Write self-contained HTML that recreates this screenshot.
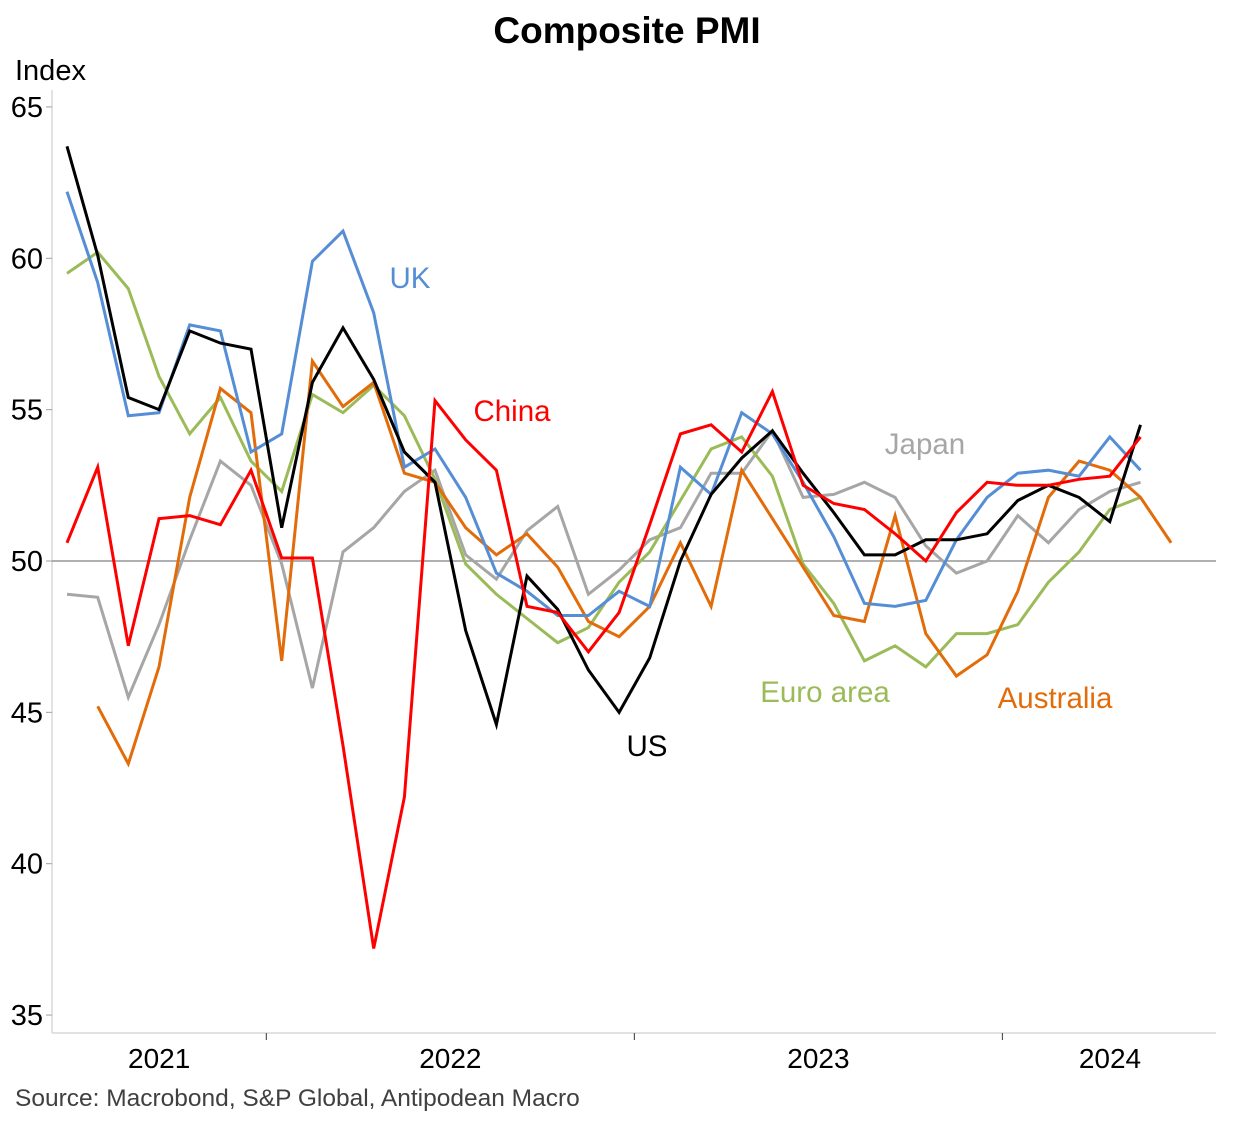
<!DOCTYPE html>
<html><head><meta charset="utf-8"><style>
html,body{margin:0;padding:0;background:#fff;}
svg{display:block;font-family:"Liberation Sans",Arial,sans-serif;}
</style></head><body>
<svg id="chart" width="1253" height="1122" viewBox="0 0 1253 1122" xmlns="http://www.w3.org/2000/svg">
<text x="627" y="43" text-anchor="middle" font-size="37" font-weight="bold">Composite PMI</text>
<text x="15" y="80" font-size="29">Index</text>
<g id="axes"></g>
<g id="series"></g>
<text x="410" y="288" text-anchor="middle" font-size="29.5" fill="#558ed5">UK</text>
<text x="512" y="421" text-anchor="middle" font-size="29.5" fill="#ff0000">China</text>
<text x="925" y="454" text-anchor="middle" font-size="29.5" fill="#a6a6a6">Japan</text>
<text x="825" y="702" text-anchor="middle" font-size="29.5" fill="#9bbb59">Euro area</text>
<text x="1055" y="708" text-anchor="middle" font-size="29.5" fill="#e36c0a">Australia</text>
<text x="647" y="756" text-anchor="middle" font-size="29.5" fill="#000">US</text>
<text x="15" y="1106" font-size="24.5" fill="#404040">Source: Macrobond, S&amp;P Global, Antipodean Macro</text>
</svg>
<script>
const yTicks=[35,40,45,50,55,60,65];
const yearLabels=["2021","2022","2023","2024"];
const us=[63.7,60.1,55.4,55.0,57.6,57.2,57.0,51.1,55.9,57.7,56.0,53.6,52.6,47.7,44.6,49.5,48.4,46.4,45.0,46.8,50.0,52.2,53.4,54.3,52.9,51.6,50.2,50.2,50.7,50.7,50.9,52.0,52.5,52.1,51.3,54.5];
const uk=[62.2,59.2,54.8,54.9,57.8,57.6,53.6,54.2,59.9,60.9,58.2,53.1,53.7,52.1,49.6,49.0,48.2,48.2,49.0,48.5,53.1,52.2,54.9,54.2,52.6,50.8,48.6,48.5,48.7,50.7,52.1,52.9,53.0,52.8,54.1,53.0];
const euro=[59.5,60.2,59.0,56.1,54.2,55.4,53.3,52.3,55.5,54.9,55.8,54.8,52.7,49.9,48.9,48.1,47.3,47.8,49.3,50.3,52.0,53.7,54.1,52.8,49.9,48.6,46.7,47.2,46.5,47.6,47.6,47.9,49.3,50.3,51.7,52.1];
const japan=[48.9,48.8,45.5,47.9,50.7,53.3,52.5,49.9,45.8,50.3,51.1,52.3,53.0,50.2,49.4,51.0,51.8,48.9,49.7,50.7,51.1,52.9,52.9,54.3,52.1,52.2,52.6,52.1,50.5,49.6,50.0,51.5,50.6,51.7,52.3,52.6];
const china=[50.6,53.1,47.2,51.4,51.5,51.2,53.0,50.1,50.1,43.9,37.2,42.2,55.3,54.0,53.0,48.5,48.3,47.0,48.3,51.2,54.2,54.5,53.6,55.6,52.5,51.9,51.7,50.9,50.0,51.6,52.6,52.5,52.5,52.7,52.8,54.1];
const australia=[null,45.2,43.3,46.5,52.1,55.7,54.9,46.7,56.6,55.1,55.9,52.9,52.6,51.1,50.2,50.9,49.8,48.0,47.5,48.5,50.6,48.5,53.0,51.4,49.8,48.2,48.0,51.5,47.6,46.2,46.9,49.0,52.1,53.3,53.0,52.1,50.6];
const seriesList=[["japan",japan,"#a6a6a6"],["euro-area",euro,"#9bbb59"],["australia",australia,"#e36c0a"],["uk",uk,"#558ed5"],["us",us,"#000000"],["china",china,"#ff0000"]];
const NS="http://www.w3.org/2000/svg";
const X0=67,DX=30.67,Y50=561,PY=30.27;
function xs(i){return X0+i*DX;}
function ys(v){return Y50-(v-50)*PY;}
function mk(tag,attrs,parent){const e=document.createElementNS(NS,tag);for(const k in attrs)e.setAttribute(k,attrs[k]);parent.appendChild(e);return e;}
const ax=document.getElementById('axes');
let l=mk('line',{x1:52,y1:90,x2:52,y2:1033,stroke:'#d9d9d9','stroke-width':1.5},ax);


l=mk('line',{x1:52,y1:1033,x2:1216,y2:1033,stroke:'#d9d9d9','stroke-width':1.5},ax);


yTicks.forEach(v=>{
  const t=mk('line',{x1:46,y1:ys(v),x2:52,y2:ys(v),stroke:'#a0a0a0','stroke-width':1},ax);
  
  
  const tx=mk('text',{x:43,y:ys(v)+10,'text-anchor':'end','font-size':29},ax);
  tx.textContent=v;
  
  
});
l=mk('line',{x1:52,y1:ys(50),x2:1216,y2:ys(50),stroke:'#808080','stroke-width':1.2},ax);


[6.5,18.5,30.5].forEach(b=>{
  const t=mk('line',{x1:xs(b),y1:1033,x2:xs(b),y2:1040,stroke:'#555','stroke-width':1.2},ax);
  
  
});
yearLabels.forEach((y,k)=>{
  let a=xs(-5.5+12*k), b=xs(6.5+12*k);
  a=Math.max(a,52); b=Math.min(b,1216);
  let cx=(a+b)/2; if(k===3) cx=1110;
  const tx=mk('text',{x:cx,y:1068,'text-anchor':'middle','font-size':28},ax);
  tx.textContent=y;
  
  
});
const sg=document.getElementById('series');
seriesList.forEach(([name,vals,col])=>{
  let d='';let pen=false;
  vals.forEach((v,i)=>{if(v===null){pen=false;return;}d+=(pen?'L':'M')+xs(i).toFixed(1)+','+ys(v).toFixed(1);pen=true;});
  const p=mk('path',{d:d,fill:'none',stroke:col,'stroke-width':3,'stroke-linejoin':'miter'},sg);
  
  
});
</script>
</body></html>
